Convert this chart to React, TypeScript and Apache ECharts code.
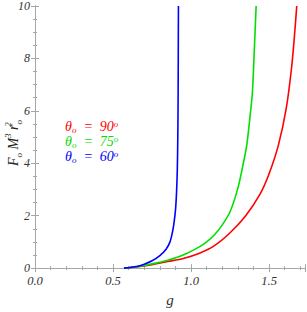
import React, { useEffect, useRef } from "react";
import * as echarts from "echarts";

const blueG = [0.57, 0.65, 0.7, 0.75, 0.8, 0.84, 0.865, 0.88, 0.89, 0.9, 0.907, 0.912, 0.915, 0.917, 0.919];
const blueF = [0, 0.06, 0.15, 0.28, 0.48, 0.72, 1.0, 1.35, 1.7, 2.2, 2.9, 3.8, 5.0, 6.5, 10];

const greenG = [0.57, 0.65, 0.75, 0.85, 0.95, 1.05, 1.1, 1.15, 1.2, 1.25, 1.3, 1.335, 1.357, 1.378, 1.393, 1.405, 1.417];
const greenF = [0, 0.05, 0.16, 0.3, 0.5, 0.8, 1.0, 1.27, 1.65, 2.15, 3.05, 4.0, 4.7, 5.8, 6.7, 8.3, 10];

const redG = [0.57, 0.65, 0.75, 0.85, 0.95, 1.05, 1.15, 1.25, 1.35, 1.44, 1.5, 1.56, 1.61, 1.645, 1.667, 1.677];
const redF = [0, 0.04, 0.13, 0.25, 0.37, 0.56, 0.86, 1.35, 2.0, 2.8, 3.6, 4.7, 6.1, 7.7, 9.2, 10];

const legendAngles = ["90", "75", "60"];
const legendColors = ["#ff0000", "#00e000", "#0000ff"];

const xTicks = [0, 0.5, 1.0, 1.5];
const yTicks = [0, 2, 4, 6, 8, 10];

const FONT = "Liberation Serif";
const FRAME = "#a6a6a6";
const LABEL = "#333333";

function pairs(g: number[], f: number[]) {
  return g.map((v, i) => [v, f[i]]);
}

export default function App() {
  const ref = useRef<HTMLDivElement>(null);
  useEffect(() => {
    if (!ref.current) return;
    const chart = echarts.init(ref.current, null, { renderer: "svg" });
    const axisCommon = {
      axisLine: { show: true, lineStyle: { color: FRAME, width: 1 } },
      axisTick: { show: true, inside: true, length: 4, lineStyle: { color: FRAME } },
      splitLine: { show: false },
    };
    const mkLine = (name: string, g: number[], f: number[], color: string) => ({
      name,
      type: "line",
      data: pairs(g, f),
      smooth: 0.3,
      showSymbol: false,
      symbol: "none",
      lineStyle: { color, width: 1.6 },
      clip: true,
    });
    const rich = (c: string) => ({
      t: { fontFamily: FONT, fontStyle: "italic", fontSize: 14, fill: c, lineHeight: 15 },
      s: { fontFamily: FONT, fontStyle: "italic", fontSize: 9, fill: c, lineHeight: 10, verticalAlign: "bottom" },
      p: { fontFamily: FONT, fontStyle: "italic", fontSize: 9, fill: c, lineHeight: 10, verticalAlign: "top" },
    });
    const ink = "#222222";
    chart.setOption({
      animation: false,
      grid: { left: 35, top: 6, right: 2, bottom: 35, containLabel: false },
      xAxis: [
        {
          type: "value",
          min: 0,
          max: 1.73,
          interval: 0.5,
          position: "bottom",
          ...axisCommon,
          minorTick: { show: true, splitNumber: 5, length: 2, lineStyle: { color: FRAME } },
          axisLabel: {
            fontFamily: FONT,
            fontStyle: "italic",
            fontSize: 12.5,
            color: LABEL,
            margin: 6,
            showMaxLabel: false,
            formatter: (v: number) => (xTicks.some((t) => Math.abs(t - v) < 1e-6) ? v.toFixed(1) : ""),
          },
          name: "g",
          nameLocation: "middle",
          nameGap: 23,
          nameTextStyle: { fontFamily: FONT, fontStyle: "italic", fontSize: 15, color: LABEL },
        },
        {
          type: "value",
          min: 0,
          max: 1.73,
          interval: 0.5,
          position: "top",
          ...axisCommon,
          minorTick: { show: true, splitNumber: 5, length: 2, lineStyle: { color: FRAME } },
          axisLabel: { show: false },
        },
      ],
      yAxis: [
        {
          type: "value",
          min: 0,
          max: 10,
          interval: 2,
          position: "left",
          ...axisCommon,
          minorTick: { show: true, splitNumber: 4, length: 2, lineStyle: { color: FRAME } },
          axisLabel: {
            fontFamily: FONT,
            fontStyle: "italic",
            fontSize: 12,
            color: LABEL,
            margin: 5,
            formatter: (v: number) => (yTicks.includes(v) ? String(v) : ""),
          },
        },
        {
          type: "value",
          min: 0,
          max: 10,
          interval: 2,
          position: "right",
          ...axisCommon,
          minorTick: { show: true, splitNumber: 4, length: 2, lineStyle: { color: FRAME } },
          axisLabel: { show: false },
        },
      ],
      series: [
        mkLine("red", redG, redF, legendColors[0]),
        mkLine("green", greenG, greenF, legendColors[1]),
        mkLine("blue", blueG, blueF, legendColors[2]),
      ],
      graphic: [
        ...legendAngles.map((a, i) => ({
          type: "text",
          left: 65,
          top: 119 + i * 15,
          style: {
            text: `{t|θ}{s|o}{t|  =  ${a}}{p|o}`,
            rich: rich(legendColors[i]),
          },
        })),
        {
          type: "text",
          x: 3,
          y: 143,
          rotation: Math.PI / 2,
          style: {
            text: "{t|F}{s|o}{t| M}{p|3}{t| r}{q|2}{s|o}",
            align: "center",
            verticalAlign: "top",
            rich: {
              t: { fontFamily: FONT, fontStyle: "italic", fontSize: 14, fill: ink, lineHeight: 20 },
              s: { fontFamily: FONT, fontStyle: "italic", fontSize: 9, fill: ink, lineHeight: 8, verticalAlign: "bottom" },
              p: { fontFamily: FONT, fontStyle: "italic", fontSize: 9, fill: ink, lineHeight: 8, verticalAlign: "top" },
              q: { fontFamily: FONT, fontStyle: "italic", fontSize: 9, fill: ink, lineHeight: 8, verticalAlign: "top", width: 0 },
            },
          },
        },
      ],
    });
    return () => chart.dispose();
  }, []);
  return <div ref={ref} style={{ width: 307, height: 312, position: "absolute", left: 0, top: 0 }} />;
}
